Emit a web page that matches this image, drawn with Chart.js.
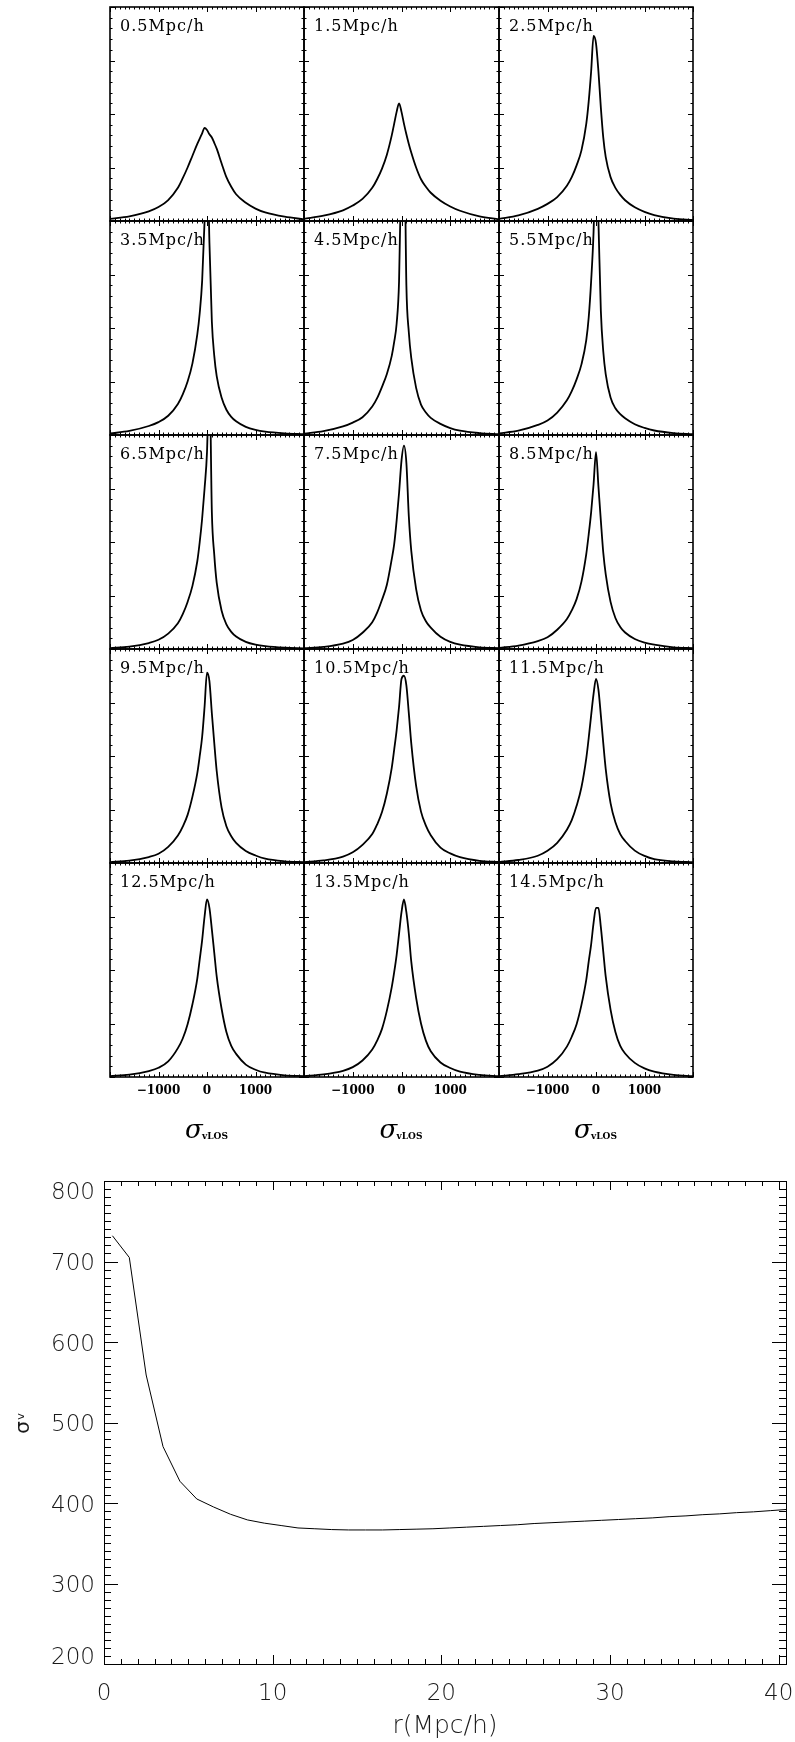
<!DOCTYPE html>
<html>
<head>
<meta charset="utf-8">
<script src="https://cdn.jsdelivr.net/npm/chart.js@4.4.1/dist/chart.umd.min.js"></script>
<style>
  html, body { margin: 0; padding: 0; background: #fff; }
  body { width: 795px; height: 1742px; position: relative; overflow: hidden; }
  canvas { position: absolute; }
</style>
</head>
<body>
<script>
// line-of-sight velocity bins (km/s), shared by every panel
const velocity = [-2000,-1600,-1200,-1000,-800,-600,-500,-400,-300,-200,-150,-100,-50,0,50,100,150,200,300,400,500,600,800,1000,1200,1600,2000];

const shellLabels = ['0.5Mpc/h','1.5Mpc/h','2.5Mpc/h','3.5Mpc/h','4.5Mpc/h','5.5Mpc/h','6.5Mpc/h','7.5Mpc/h',
                     '8.5Mpc/h','9.5Mpc/h','10.5Mpc/h','11.5Mpc/h','12.5Mpc/h','13.5Mpc/h','14.5Mpc/h'];

// velocity distribution per shell (panel height = 1, peaks above 1 run off the top)
const pdf_r05  = [0.010,0.022,0.045,0.065,0.098,0.155,0.200,0.250,0.305,0.360,0.385,0.410,0.435,0.425,0.405,0.390,0.365,0.338,0.270,0.205,0.160,0.125,0.085,0.058,0.040,0.020,0.008];
const pdf_r15  = [0.010,0.025,0.050,0.072,0.103,0.155,0.195,0.245,0.310,0.400,0.455,0.510,0.550,0.510,0.455,0.405,0.360,0.320,0.250,0.195,0.160,0.132,0.095,0.068,0.048,0.022,0.008];
const pdf_r25  = [0.010,0.026,0.057,0.080,0.112,0.165,0.205,0.260,0.330,0.455,0.560,0.700,0.865,0.830,0.700,0.530,0.390,0.300,0.205,0.155,0.122,0.097,0.064,0.043,0.028,0.011,0.005];
const pdf_r35  = [0.007,0.019,0.042,0.060,0.090,0.145,0.190,0.250,0.335,0.470,0.570,0.720,1.000,1.400,0.900,0.530,0.370,0.275,0.175,0.118,0.085,0.064,0.038,0.024,0.016,0.008,0.004];
const pdf_r45  = [0.006,0.018,0.040,0.058,0.083,0.133,0.172,0.225,0.285,0.370,0.435,0.520,0.720,1.300,1.500,0.700,0.480,0.360,0.220,0.142,0.105,0.080,0.052,0.032,0.020,0.009,0.004];
const pdf_r55  = [0.008,0.020,0.047,0.068,0.105,0.162,0.205,0.260,0.330,0.445,0.550,0.720,0.950,1.350,1.000,0.580,0.390,0.285,0.175,0.125,0.097,0.078,0.050,0.033,0.021,0.009,0.004];
const pdf_r65  = [0.004,0.011,0.028,0.043,0.072,0.120,0.163,0.220,0.295,0.410,0.500,0.610,0.750,0.920,1.300,0.640,0.440,0.310,0.180,0.115,0.080,0.058,0.033,0.020,0.013,0.006,0.003];
const pdf_r75  = [0.004,0.010,0.025,0.042,0.076,0.125,0.170,0.230,0.300,0.420,0.490,0.600,0.730,0.880,0.950,0.870,0.620,0.460,0.280,0.180,0.130,0.100,0.057,0.033,0.020,0.008,0.004];
const pdf_r85  = [0.005,0.016,0.037,0.055,0.090,0.140,0.180,0.233,0.315,0.445,0.537,0.640,0.770,0.920,0.760,0.600,0.450,0.350,0.220,0.145,0.103,0.077,0.047,0.030,0.020,0.008,0.004];
const pdf_r95  = [0.004,0.011,0.028,0.043,0.075,0.128,0.170,0.225,0.310,0.420,0.500,0.590,0.730,0.890,0.850,0.700,0.560,0.430,0.260,0.172,0.125,0.094,0.056,0.035,0.020,0.008,0.004];
const pdf_r105 = [0.004,0.012,0.030,0.050,0.085,0.135,0.180,0.238,0.325,0.445,0.530,0.620,0.730,0.860,0.875,0.830,0.700,0.560,0.360,0.240,0.175,0.130,0.072,0.045,0.027,0.010,0.005];
const pdf_r115 = [0.004,0.014,0.034,0.057,0.094,0.155,0.200,0.267,0.354,0.490,0.585,0.690,0.790,0.860,0.810,0.690,0.560,0.440,0.280,0.190,0.135,0.103,0.058,0.033,0.018,0.008,0.004];
const pdf_r125 = [0.004,0.011,0.028,0.043,0.073,0.135,0.180,0.247,0.340,0.460,0.550,0.640,0.750,0.830,0.790,0.690,0.580,0.470,0.320,0.210,0.145,0.108,0.058,0.034,0.020,0.008,0.004];
const pdf_r135 = [0.004,0.012,0.029,0.046,0.077,0.128,0.170,0.225,0.310,0.420,0.490,0.570,0.670,0.770,0.830,0.770,0.670,0.540,0.370,0.250,0.170,0.120,0.068,0.042,0.025,0.010,0.004];
const pdf_r145 = [0.004,0.013,0.030,0.048,0.083,0.142,0.188,0.247,0.337,0.455,0.540,0.620,0.720,0.790,0.790,0.700,0.585,0.470,0.315,0.210,0.145,0.110,0.066,0.040,0.025,0.010,0.004];

const shellPdfs = [pdf_r05, pdf_r15, pdf_r25, pdf_r35, pdf_r45, pdf_r55, pdf_r65, pdf_r75,
                   pdf_r85, pdf_r95, pdf_r105, pdf_r115, pdf_r125, pdf_r135, pdf_r145];
const velTickLabels = [-1000, 0, 1000];

// velocity dispersion against radius
const radius = [0.5,1.5,2.5,3.5,4.5,5.5,6.5,7.5,8.5,9.5,10.5,11.5,12.5,13.5,14.5,15.5,16.5,17.5,18.5,19.5,
                20.5,21.5,22.5,23.5,24.5,25.5,26.5,27.5,28.5,29.5,30.5,31.5,32.5,33.5,34.5,35.5,36.5,37.5,38.5,39.5,40.5];
const sigmaV = [732,705,559,470,427,405,395,386,379,375,372,369,368,367,366.5,366.5,366.5,367,367.5,368,
                369,370,371,372,373,374.5,375.5,376.5,377.5,378.5,379.5,380.5,381.5,383,384,385.5,386.5,388,389,390.5,392];
const sigmaTicks = [200, 300, 400, 500, 600, 700, 800];
const radiusTicks = [0, 10, 20, 30, 40];

// frame with inward ticks on all four sides, plus panel texts
const panelFrame = {
  id: 'panelFrame',
  afterDatasetsDraw(chart, args, opts) {
    const { ctx, chartArea: a } = chart;
    const x = chart.scales.x, y = chart.scales.y;
    ctx.save();
    ctx.strokeStyle = '#000';
    ctx.lineWidth = 1;
    ctx.beginPath();
    for (let v = -2000; v <= 2000; v += 100) {
      const px = Math.round(x.getPixelForValue(v)) + 0.5;
      const len = v % 1000 === 0 ? 5 : 2.5;
      ctx.moveTo(px, a.bottom); ctx.lineTo(px, a.bottom - len);
      ctx.moveTo(px, a.top); ctx.lineTo(px, a.top + len);
    }
    for (let k = 0; k <= 20; k++) {
      const py = Math.round(y.getPixelForValue(k * 0.05)) + 0.5;
      const len = k % 5 === 0 ? 5 : 2.5;
      ctx.moveTo(a.left, py); ctx.lineTo(a.left + len, py);
      ctx.moveTo(a.right, py); ctx.lineTo(a.right - len, py);
    }
    ctx.stroke();
    ctx.lineWidth = 1.6;
    ctx.strokeRect(a.left, a.top, a.right - a.left, a.bottom - a.top);

    ctx.fillStyle = '#000';
    ctx.font = '16px "DejaVu Serif"';
    ctx.letterSpacing = '1px';
    ctx.textAlign = 'left';
    ctx.textBaseline = 'alphabetic';
    ctx.fillText(opts.label, a.left + 10, a.top + 24);
    ctx.letterSpacing = '0px';

    if (opts.axisText) {
      ctx.font = 'bold 12px "DejaVu Serif"';
      ctx.textAlign = 'center';
      ctx.textBaseline = 'middle';
      velTickLabels.forEach(v => {
        const txt = v < 0 ? '\u2212' + Math.abs(v) : String(v);
        ctx.fillText(txt, x.getPixelForValue(v), a.bottom + 14);
      });
      const cx = (a.left + a.right) / 2;
      ctx.textAlign = 'left';
      ctx.textBaseline = 'alphabetic';
      ctx.font = 'italic 26px "DejaVu Serif"';
      ctx.fillText('\u03c3', cx - 22, a.bottom + 61);
      ctx.font = 'bold 9px "DejaVu Serif"';
      ctx.fillText('vLOS', cx - 5, a.bottom + 62);
    }
    ctx.restore();
  }
};

const GRID_LEFT = 110, GRID_RIGHT = 693, GRID_TOP = 7, PANEL_H = 214, PAD = 6;
const PANEL_W = (GRID_RIGHT - GRID_LEFT) / 3;

shellPdfs.forEach((pdf, i) => {
  const col = i % 3, row = Math.floor(i / 3);
  const left = Math.round(GRID_LEFT + col * PANEL_W);
  const right = Math.round(GRID_LEFT + (col + 1) * PANEL_W);
  const top = GRID_TOP + row * PANEL_H;
  const extra = row === 4 ? 72 : 0;

  const canvas = document.createElement('canvas');
  canvas.width = right - left + 2 * PAD;
  canvas.height = PANEL_H + 2 * PAD + extra;
  canvas.style.left = (left - PAD) + 'px';
  canvas.style.top = (top - PAD) + 'px';
  document.body.appendChild(canvas);

  new Chart(canvas, {
    type: 'line',
    data: {
      datasets: [{
        data: velocity.map((v, k) => ({ x: v, y: pdf[k] })),
        borderColor: '#000',
        borderWidth: 1.8,
        pointRadius: 0,
        cubicInterpolationMode: 'monotone',
        fill: false,
        clip: 0
      }]
    },
    options: {
      responsive: false,
      animation: false,
      devicePixelRatio: 1,
      layout: { padding: { left: PAD, right: PAD, top: PAD, bottom: PAD + extra } },
      scales: {
        x: { type: 'linear', min: -2000, max: 2000, display: false },
        y: { type: 'linear', min: 0, max: 1, display: false }
      },
      plugins: {
        legend: { display: false },
        tooltip: { enabled: false },
        panelFrame: { label: shellLabels[i], axisText: row === 4 }
      }
    },
    plugins: [panelFrame]
  });
});

// lower plot: sigma_v vs r
const sigmaFrame = {
  id: 'sigmaFrame',
  afterDatasetsDraw(chart) {
    const { ctx, chartArea: a } = chart;
    const x = chart.scales.x, y = chart.scales.y;
    ctx.save();
    ctx.strokeStyle = '#000';
    ctx.lineWidth = 1;
    ctx.beginPath();
    for (let v = 0; v <= 40; v++) {
      const px = Math.round(x.getPixelForValue(v)) + 0.5;
      const len = v % 10 === 0 ? 9 : 5;
      ctx.moveTo(px, a.bottom); ctx.lineTo(px, a.bottom - len);
      ctx.moveTo(px, a.top); ctx.lineTo(px, a.top + len);
    }
    for (let v = 200; v <= 800; v += 10) {
      const py = Math.round(y.getPixelForValue(v)) + 0.5;
      const len = v % 100 === 0 ? 14 : 7;
      ctx.moveTo(a.left, py); ctx.lineTo(a.left + len, py);
      ctx.moveTo(a.right, py); ctx.lineTo(a.right - len, py);
    }
    ctx.stroke();
    ctx.strokeRect(Math.round(a.left) + 0.5, Math.round(a.top) + 0.5,
                   Math.round(a.right - a.left), Math.round(a.bottom - a.top));

    ctx.fillStyle = '#1a1a1a';
    ctx.font = '200 23px "DejaVu Sans"';
    ctx.textAlign = 'center';
    ctx.textBaseline = 'alphabetic';
    radiusTicks.forEach(v => ctx.fillText(String(v), x.getPixelForValue(v), a.bottom + 36));

    ctx.textAlign = 'right';
    const half = 8.5;
    sigmaTicks.forEach(v => {
      let cy = y.getPixelForValue(v);
      cy = Math.min(Math.max(cy, a.top + half + 1), a.bottom - half);
      ctx.fillText(String(v), a.left - 9, cy + half);
    });

    ctx.textAlign = 'center';
    ctx.font = '200 25px "DejaVu Sans"';
    ctx.fillText('r(Mpc/h)', (a.left + a.right) / 2, a.bottom + 69);

    ctx.translate(22, (a.top + a.bottom) / 2);
    ctx.rotate(-Math.PI / 2);
    ctx.font = '20px "DejaVu Sans"';
    ctx.fillText('\u03c3', -5, 7);
    ctx.font = '11px "DejaVu Sans"';
    ctx.fillText('v', 6, 2);
    ctx.restore();
  }
};

const sigmaCanvas = document.createElement('canvas');
sigmaCanvas.width = 795;
sigmaCanvas.height = 612;
sigmaCanvas.style.left = '0px';
sigmaCanvas.style.top = '1130px';
document.body.appendChild(sigmaCanvas);

new Chart(sigmaCanvas, {
  type: 'line',
  data: {
    datasets: [{
      data: radius.map((r, k) => ({ x: r, y: sigmaV[k] })),
      borderColor: '#000',
      borderWidth: 1,
      pointRadius: 0,
      tension: 0,
      fill: false,
      clip: 0
    }]
  },
  options: {
    responsive: false,
    animation: false,
    devicePixelRatio: 1,
    layout: { padding: { left: 104, right: 9, top: 51, bottom: 78 } },
    scales: {
      x: { type: 'linear', min: 0, max: 40.43, display: false },
      y: { type: 'linear', min: 200, max: 800, display: false }
    },
    plugins: { legend: { display: false }, tooltip: { enabled: false } }
  },
  plugins: [sigmaFrame]
});
</script>
</body>
</html>
